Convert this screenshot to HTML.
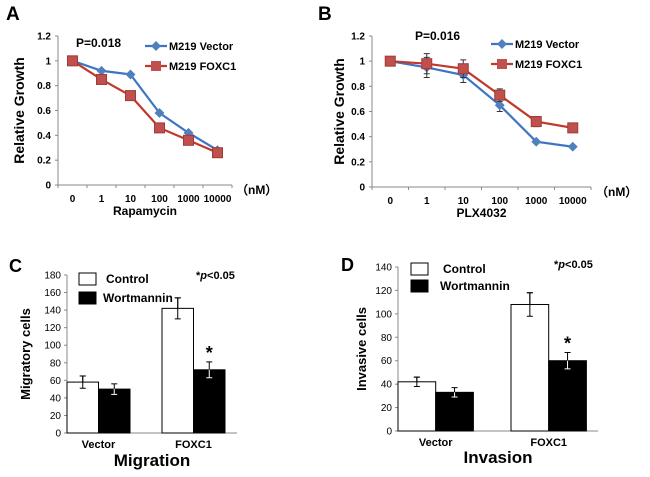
<!DOCTYPE html>
<html><head><meta charset="utf-8"><style>
body{margin:0;background:#fff}
svg{display:block;font-family:"Liberation Sans",Arial,sans-serif;font-weight:bold}
</style></head><body>
<svg id="s" width="650" height="477"></svg>
<script>
const lineCats=["0","1","10","100","1000","10000"];
const yTicksLine=["0","0.2","0.4","0.6","0.8","1","1.2"];
const aVector=[1,0.92,0.89,0.58,0.42,0.28];
const aFoxc1=[1,0.85,0.72,0.46,0.36,0.26];
const bVector=[1,0.95,0.89,0.65,0.36,0.32];
const bFoxc1=[1,0.98,0.94,0.73,0.52,0.47];
const bVectorErr=[0,0.08,0.06,0.05,0,0];
const bFoxc1Err=[0,0.08,0.07,0.05,0.04,0];
const barCats=["Vector","FOXC1"];
const cControl=[58,142];const cWort=[50,72];
const cControlErr=[7,12];const cWortErr=[6,9];
const cTicks=[0,20,40,60,80,100,120,140,160,180];
const dControl=[42,108];const dWort=[33,60];
const dControlErr=[4,10];const dWortErr=[4,7];
const dTicks=[0,20,40,60,80,100,120,140];

const S=document.getElementById('s');const NS="http://www.w3.org/2000/svg";
function el(t,a,name,txt){const e=document.createElementNS(NS,t);for(const k in a)e.setAttribute(k,a[k]);


if(txt!==undefined)e.textContent=txt;S.appendChild(e);return e;}
function txt(x,y,s,size,name,anchor,extra){const a={x:x,y:y,'font-size':size,'text-anchor':anchor||'middle'};Object.assign(a,extra||{});return el('text',a,name,s);}

function linePanel(o){
 const y=v=>o.y0-(v/1.2)*(o.y0-o.y12);
 const x=i=>o.x0+o.w*(i+0.5);
 el('line',{x1:o.x0,y1:o.y12,x2:o.x0,y2:o.y0,stroke:'#888','stroke-width':1},'y-axis');
 el('line',{x1:o.x0,y1:o.y0,x2:o.x0+o.w*6,y2:o.y0,stroke:'#888','stroke-width':1},'x-axis');
 yTicksLine.forEach((t,i)=>{const v=+t;el('line',{x1:o.x0-3,y1:y(v),x2:o.x0,y2:y(v),stroke:'#888'},'y-tick');
  txt(o.x0-7,y(v)+3.5,t,10,'y-tick-label','end');});
 for(let i=0;i<=6;i++)el('line',{x1:o.x0+o.w*i,y1:o.y0,x2:o.x0+o.w*i,y2:o.y0+3,stroke:'#888'},'x-tick');
 lineCats.forEach((c,i)=>txt(x(i),o.y0+17,c,10,'x-tick-label'));
 txt(o.x0+o.w*3,o.y0+30,o.xt,12,'x-axis-title');
 txt(o.nmx,o.y0+9,'（nM）',12,'unit-label','start');
 const ty=(o.y0+o.y12)/2;
 txt(o.ytx,ty,'Relative Growth',14,'y-axis-title','middle',{transform:`rotate(-90 ${o.ytx} ${ty})`});
 txt(o.px,o.py,o.p,12,'p-value','start');
 txt(o.lx,o.ly,o.letter,19,'panel-label','start',{'font-family':'Liberation Sans'});
 function series(d,err,col,shape,name){
  el('polyline',{points:d.map((v,i)=>x(i)+','+y(v)).join(' '),fill:'none',stroke:col,'stroke-width':2.2},name+'-line');
  d.forEach((v,i)=>{
   if(err&&err[i]){const e1=y(v+err[i]),e2=y(v-err[i]);el('path',{d:`M${x(i)},${e1}V${e2}M${x(i)-3},${e1}h6M${x(i)-3},${e2}h6`,stroke:'#333','stroke-width':1},name+'-error-bar');}
   if(shape==='sq')el('rect',{x:x(i)-5,y:y(v)-5,width:10,height:10,fill:'#c0504d',stroke:'#a03a38'},name+'-marker');
   else el('rect',{x:x(i)-3.5,y:y(v)-3.5,width:7,height:7,fill:'#4f81bd',transform:`rotate(45 ${x(i)} ${y(v)})`},name+'-marker');
  });
 }
 series(o.v,o.ve,'#3e74c4','di','vector');
 series(o.f,o.fe,'#c0392b','sq','foxc1');
 // legend
 el('line',{x1:o.lgx,y1:o.lgy,x2:o.lgx+22,y2:o.lgy,stroke:'#3e74c4','stroke-width':2.2},'legend-vector-line');
 el('rect',{x:o.lgx+7.5,y:o.lgy-3.5,width:7,height:7,fill:'#4f81bd',transform:`rotate(45 ${o.lgx+11} ${o.lgy})`},'legend-vector-marker');
 txt(o.lgx+24,o.lgy+4,'M219 Vector',11,'legend-vector-label','start');
 const l2=o.lgy+20;
 el('line',{x1:o.lgx,y1:l2,x2:o.lgx+22,y2:l2,stroke:'#c0392b','stroke-width':2.2},'legend-foxc1-line');
 el('rect',{x:o.lgx+6,y:l2-5,width:10,height:10,fill:'#c0504d'},'legend-foxc1-marker');
 txt(o.lgx+24,l2+4,'M219 FOXC1',11,'legend-foxc1-label','start');
}
linePanel({x0:58,w:29,y0:185,y12:36,xt:'Rapamycin',nmx:236,ytx:24,p:'P=0.018',px:76,py:47,letter:'A',lx:6,ly:20,v:aVector,f:aFoxc1,lgx:145,lgy:46});
linePanel({x0:372,w:36.5,y0:187,y12:36,xt:'PLX4032',nmx:596,ytx:344,p:'P=0.016',px:415,py:40,letter:'B',lx:318,ly:20,v:bVector,f:bFoxc1,ve:bVectorErr,fe:bFoxc1Err,lgx:491,lgy:44});

function barPanel(o){
 const max=o.ticks[o.ticks.length-1];
 const y=v=>o.y0-(v/max)*(o.y0-o.yt);
 el('line',{x1:o.x0,y1:o.yt,x2:o.x0,y2:o.y0,stroke:'#888'},'y-axis');
 el('line',{x1:o.x0,y1:o.y0,x2:o.x0+o.w,y2:o.y0,stroke:'#888'},'x-axis');
 o.ticks.forEach(t=>{el('line',{x1:o.x0-3,y1:y(t),x2:o.x0,y2:y(t),stroke:'#888'},'y-tick');
  txt(o.x0-6,y(t)+3.5,String(t),10,'y-tick-label','end',{'font-weight':'normal'});});
 barCats.forEach((c,i)=>{
  const gx=o.gx[i];
  [[o.c,o.ce,'#fff','control'],[o.k,o.ke,'#000','wortmannin']].forEach((s,j)=>{
   const bx=gx+j*o.bw,v=s[0][i],e=s[1][i];
   el('rect',{x:bx,y:y(v),width:o.bw,height:o.y0-y(v),fill:s[2],stroke:'#000','stroke-width':1},'bar-'+s[3]+'-'+c.toLowerCase());
   el('path',{d:`M${bx+o.bw/2},${y(v+e)}V${y(v-e)}M${bx+o.bw/2-3},${y(v+e)}h6M${bx+o.bw/2-3},${y(v-e)}h6`,stroke:j?'#fff':'#000','stroke-width':1},'error-bar');
   el('line',{x1:bx+o.bw/2,y1:y(v+e),x2:bx+o.bw/2,y2:y(v),stroke:'#000'},'error-bar-top');
   el('line',{x1:bx+o.bw/2-3,y1:y(v+e),x2:bx+o.bw/2+3,y2:y(v+e),stroke:'#000'},'error-cap');
  });
  txt(gx+o.bw,o.y0+15,c,11,'x-tick-label');
  if(i===1)txt(gx+o.bw*1.5,y(o.k[1]+o.ke[1])-3,'*',18,'significance-star');
 });
 txt(o.x0+o.w/2,o.y0+o.tt,o.title,17,'x-axis-title');
 const ty=(o.y0+o.yt)/2;
 txt(o.ytx,ty,o.yl,13,'y-axis-title','middle',{transform:`rotate(-90 ${o.ytx} ${ty})`});
 el('rect',{x:o.lx,y:o.ly,width:17,height:12,fill:'#fff',stroke:'#000'},'legend-control-swatch');
 txt(o.lx+o.ltx,o.ly+10,'Control',12,'legend-control-label','start');
 el('rect',{x:o.lx,y:o.ly+o.ld,width:17,height:12,fill:'#000',stroke:'#000'},'legend-wortmannin-swatch');
 txt(o.lx+o.ltx-3,o.ly+o.ld+10,'Wortmannin',12,'legend-wortmannin-label','start');
 const p=txt(o.px,o.py,'*',11,'p-value-note','start');
 const sp=document.createElementNS(NS,'tspan');sp.setAttribute('font-style','italic');sp.textContent='p';p.appendChild(sp);
 const sp2=document.createElementNS(NS,'tspan');sp2.textContent='<0.05';p.appendChild(sp2);
 txt(o.Lx,o.Ly,o.letter,18,'panel-label','start');
}
barPanel({x0:67,w:170,y0:433,yt:275,ticks:cTicks,gx:[67,162],bw:31.5,c:cControl,ce:cControlErr,k:cWort,ke:cWortErr,tt:33,title:'Migration',ytx:30,yl:'Migratory cells',lx:79,ly:273,ld:19,ltx:27,px:196,py:279,letter:'C',Lx:9,Ly:272});
barPanel({x0:398,w:200,y0:431,yt:267,ticks:dTicks,gx:[398,511],bw:37.7,c:dControl,ce:dControlErr,k:dWort,ke:dWortErr,tt:32,title:'Invasion',ytx:366,yl:'Invasive cells',lx:411,ly:263,ld:17,ltx:32,px:554,py:268,letter:'D',Lx:341,Ly:271});
</script>
</body></html>
